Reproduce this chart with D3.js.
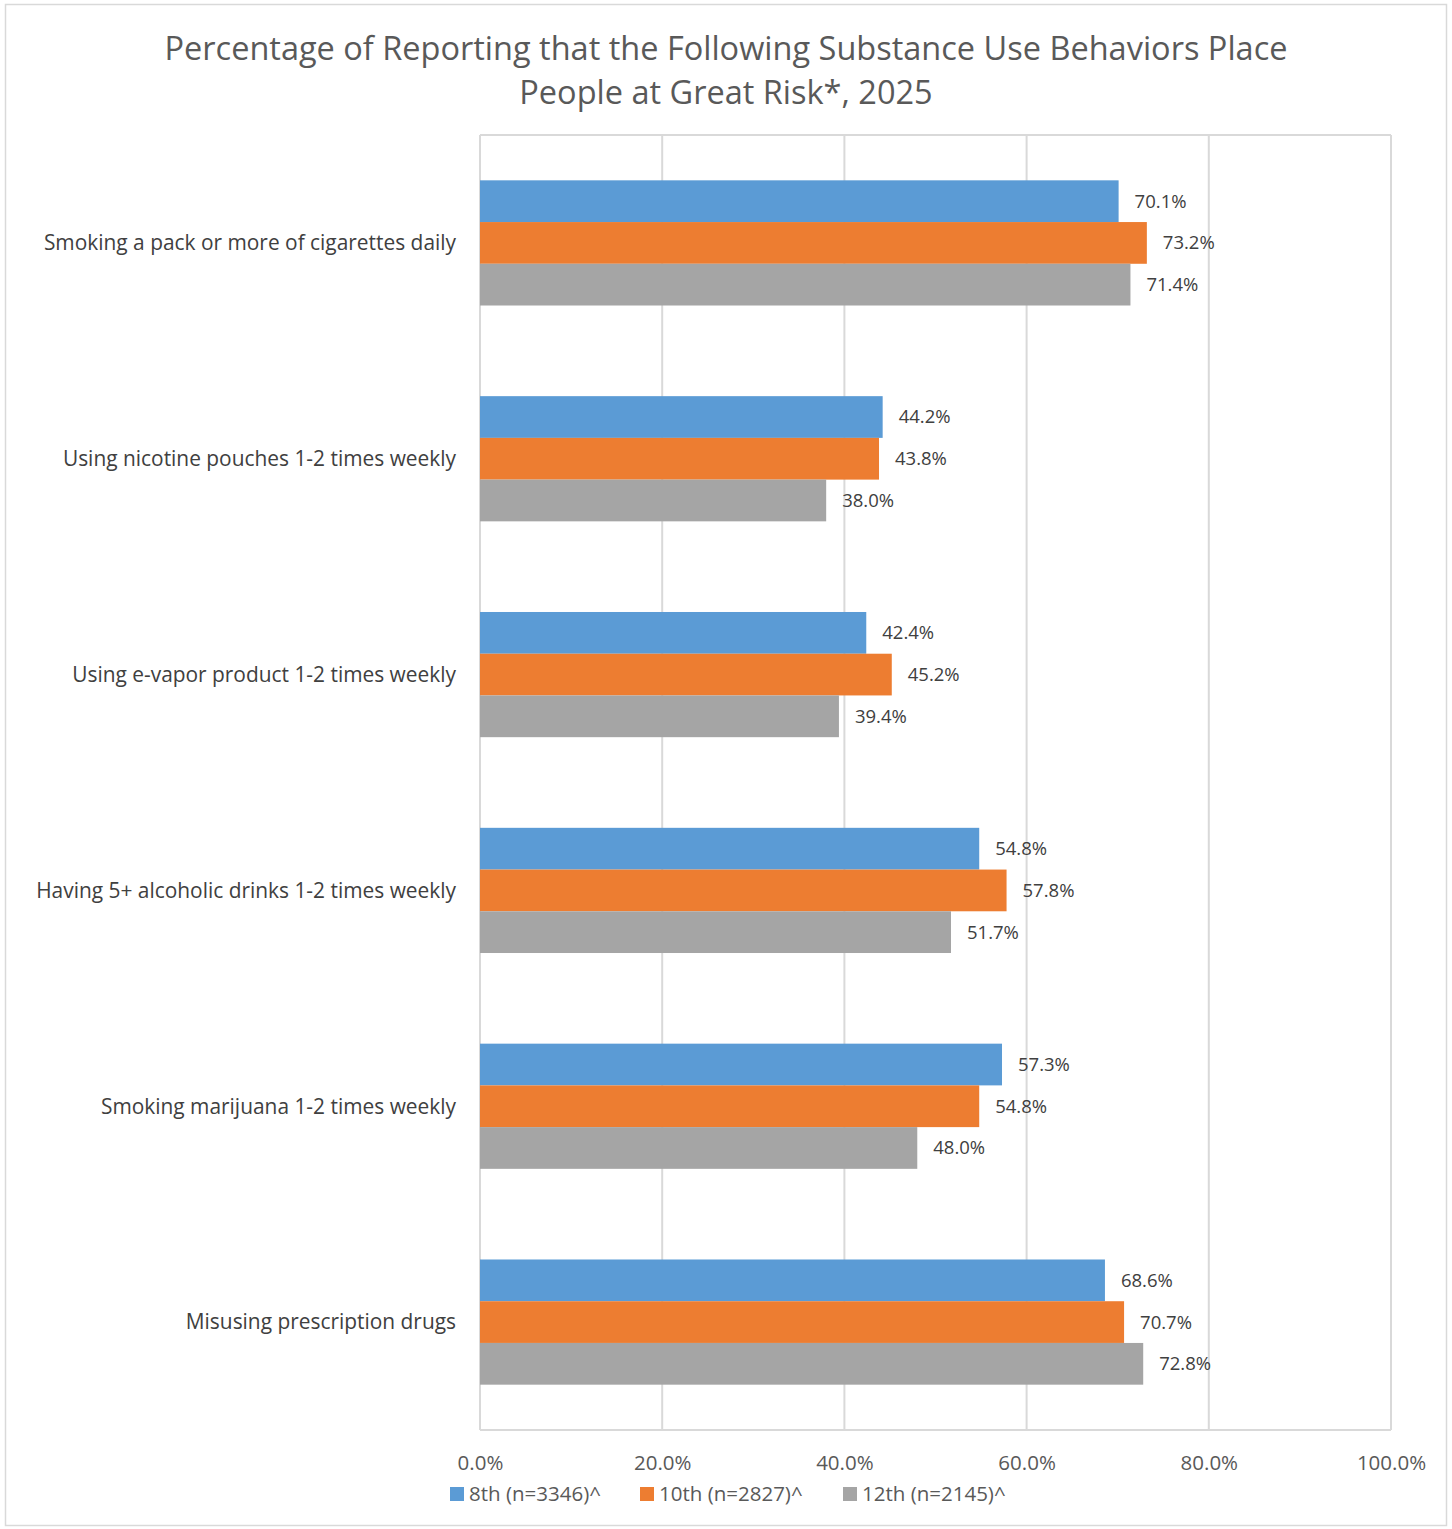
<!DOCTYPE html>
<html><head><meta charset="utf-8">
<script src="https://cdn.jsdelivr.net/npm/d3@7"></script>
<style>body{margin:0;background:#fff;}svg{display:block;}</style>
</head><body>
<script>
const categories = [
  "Smoking a pack or more of cigarettes daily",
  "Using nicotine pouches 1-2 times weekly",
  "Using e-vapor product 1-2 times weekly",
  "Having 5+ alcoholic drinks 1-2 times weekly",
  "Smoking marijuana 1-2 times weekly",
  "Misusing prescription drugs"
];
const seriesNames = ["8th (n=3346)^", "10th (n=2827)^", "12th (n=2145)^"];
const grade8 = [70.1, 44.2, 42.4, 54.8, 57.3, 68.6];
const grade10 = [73.2, 43.8, 45.2, 57.8, 54.8, 70.7];
const grade12 = [71.4, 38.0, 39.4, 51.7, 48.0, 72.8];
const tickValues = [0, 20, 40, 60, 80, 100];
const colors = ["#5b9bd5", "#ed7d31", "#a5a5a5"];
const titleLines = ["Percentage of Reporting that the Following Substance Use Behaviors Place", "People at Great Risk*, 2025"];

const W = 1452, H = 1529;
const m = {left: 480, right: 1391, top: 135, bottom: 1430};
const svg = d3.select("body").append("svg").attr("width", W).attr("height", H);
const font = "'Open Sans', sans-serif";

svg.append("rect").attr("x", 5.5).attr("y", 4.5).attr("width", 1441).attr("height", 1521)
  .attr("fill", "#fff").attr("stroke", "#d9d9d9").attr("stroke-width", 1.5);

const x = d3.scaleLinear().domain([0, 100]).range([m.left, m.right]);
const y = d3.scaleBand().domain(categories).range([m.top, m.bottom]).paddingInner(0.42).paddingOuter(0.21);
const series = [grade8, grade10, grade12];
const ySub = d3.scaleBand().domain([0,1,2]).range([0, y.bandwidth()]);

// gridlines
svg.append("g").selectAll("line").data(tickValues).join("line")
  .attr("x1", d => x(d)).attr("x2", d => x(d)).attr("y1", m.top).attr("y2", m.bottom)
  .attr("stroke", "#d9d9d9").attr("stroke-width", 2);
svg.append("line").attr("x1", m.left).attr("x2", m.right).attr("y1", m.top).attr("y2", m.top)
  .attr("stroke", "#d9d9d9").attr("stroke-width", 2);
svg.append("line").attr("x1", m.left).attr("x2", m.right).attr("y1", m.bottom).attr("y2", m.bottom)
  .attr("stroke", "#d9d9d9").attr("stroke-width", 2);

// bars
series.forEach((vals, si) => {
  const g = svg.append("g");
  g.selectAll("rect").data(vals).join("rect")
    .attr("x", x(0)).attr("y", (d, i) => y(categories[i]) + ySub(si))
    .attr("width", d => x(d) - x(0)).attr("height", ySub.bandwidth())
    .attr("fill", colors[si]);
  g.selectAll("text").data(vals).join("text")
    .attr("x", d => x(d) + 16).attr("y", (d, i) => y(categories[i]) + ySub(si) + ySub.bandwidth()/2)
    .attr("dy", "0.35em").attr("font-family", font).attr("font-size", 18.5).attr("fill", "#404040")
    .text(d => d.toFixed(1) + "%");
});

// category labels
svg.append("g").selectAll("text").data(categories).join("text")
  .attr("x", 456).attr("y", d => y(d) + y.bandwidth()/2).attr("dy", "0.35em")
  .attr("text-anchor", "end").attr("font-family", font).attr("font-size", 20.9).attr("fill", "#404040")
  .text(d => d);

// x axis
const axis = svg.append("g").attr("transform", `translate(0,${m.bottom})`)
  .call(d3.axisBottom(x).tickValues(tickValues).tickSize(0).tickPadding(25).tickFormat(d => d.toFixed(1) + "%"));
axis.select(".domain").remove();
axis.selectAll("text").attr("font-family", font).attr("font-size", 20.5).attr("fill", "#595959");

// title
svg.append("g").selectAll("text").data(titleLines).join("text")
  .attr("x", 726).attr("y", (d, i) => 60 + i * 44).attr("text-anchor", "middle")
  .attr("font-family", font).attr("font-size", 32.5).attr("fill", "#595959").text(d => d);

// legend
const legendX = [450, 640, 843];
const lg = svg.append("g").selectAll("g").data(seriesNames).join("g")
  .attr("transform", (d, i) => `translate(${legendX[i]},1494)`);
lg.append("rect").attr("x", 0).attr("y", -7).attr("width", 14).attr("height", 14).attr("fill", (d, i) => colors[i]);
lg.append("text").attr("x", 19).attr("dy", "0.35em").attr("font-family", font).attr("font-size", 20.5)
  .attr("fill", "#595959").text(d => d);
</script>
</body></html>
